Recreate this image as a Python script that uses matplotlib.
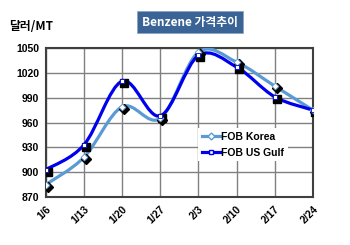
import numpy as np
import matplotlib.pyplot as plt
import matplotlib.transforms as mtransforms
from matplotlib.path import Path
from matplotlib.patches import PathPatch
from matplotlib.lines import Line2D

plt.rcParams['font.family'] = ['Liberation Sans', 'Noto Sans CJK KR', 'DejaVu Sans']

dates = ['1/6', '1/13', '1/20', '1/27', '2/3', '2/10', '2/17', '2/24']
korea = [885, 918, 979, 965, 1045, 1033, 1004, 975]
usgulf = [903, 933, 1010, 968, 1041, 1027, 991, 975]
yticks = [870, 900, 930, 960, 990, 1020, 1050]


def smooth_path(x, y):
    # catmull-rom -> bezier, like excel smoothed lines
    verts = [(x[0], y[0])]
    codes = [Path.MOVETO]
    n = len(x)
    for i in range(n - 1):
        x0, y0 = (x[i - 1], y[i - 1]) if i > 0 else (x[i], y[i])
        x3, y3 = (x[i + 2], y[i + 2]) if i + 2 < n else (x[i + 1], y[i + 1])
        c1 = (x[i] + (x[i + 1] - x0) / 6, y[i] + (y[i + 1] - y0) / 6)
        c2 = (x[i + 1] - (x3 - x[i]) / 6, y[i + 1] - (y3 - y[i]) / 6)
        verts += [c1, c2, (x[i + 1], y[i + 1])]
        codes += [Path.CURVE4] * 3
    return Path(verts, codes)


fig = plt.figure(figsize=(3.5, 2.45), dpi=100)
ax = fig.add_axes([0.131, 0.196, 0.763, 0.608])

xs = np.arange(len(dates))
shadow = ax.transData + mtransforms.ScaledTranslation(2 / 100, -2 / 100, fig.dpi_scale_trans)

for vals, col, mk, ms in [(korea, '#5b9bd5', 'D', 5.5), (usgulf, '#0000ee', 's', 6)]:
    ax.add_patch(PathPatch(smooth_path(xs, vals), facecolor='none', edgecolor=col, lw=2.3, zorder=3))
    ax.plot(xs, vals, linestyle='none', marker=mk, ms=ms, color='black', transform=shadow, zorder=4)
    ax.plot(xs, vals, linestyle='none', marker=mk, ms=3.5, mfc='white', mec=col, mew=0.6, zorder=5)

ax.set_xlim(0, len(dates) - 1)
ax.set_ylim(870, 1050)
ax.set_xticks(xs)
ax.set_xticklabels(dates, rotation=45, ha='right', rotation_mode='anchor', fontsize=7.5, fontweight='bold')
ax.set_yticks(yticks)
ax.set_yticklabels([str(v) for v in yticks], fontsize=7.5, fontweight='bold')
ax.tick_params(length=0, pad=5)
ax.grid(color='#808080', lw=1)
ax.set_axisbelow(True)
for s in ax.spines.values():
    s.set_color('#404040')
    s.set_linewidth(1.5)

handles = [Line2D([], [], color='#5b9bd5', lw=2.3, marker='D', ms=3.5, mfc='white', mec='#5b9bd5'),
           Line2D([], [], color='#0000ee', lw=2.3, marker='s', ms=3.5, mfc='white', mec='#0000ee')]
leg = ax.legend(handles, ['FOB Korea', 'FOB US Gulf'], loc='center left', bbox_to_anchor=(0.55, 0.35),
                frameon=True, fancybox=False, edgecolor='none', framealpha=1, handlelength=1.8,
                handletextpad=0.1, labelspacing=0.55, borderpad=0.35, prop={'size': 7.5, 'weight': 'bold'})
leg.set_zorder(6)

fig.text(0.025, 0.89, '달러/MT', fontsize=8.5, fontweight='bold', va='center',
         family=['Noto Sans CJK KR', 'DejaVu Sans'])
fig.text(0.543, 0.91, 'Benzene 가격추이', fontsize=8.5, fontweight='bold', color='white', ha='center', va='center',
         family=['Noto Sans CJK KR', 'DejaVu Sans'],
         bbox=dict(boxstyle='square,pad=0.4', facecolor='#3a6496', edgecolor='#8aa2c0', lw=0.5))

fig.savefig('out.png', dpi=100)
